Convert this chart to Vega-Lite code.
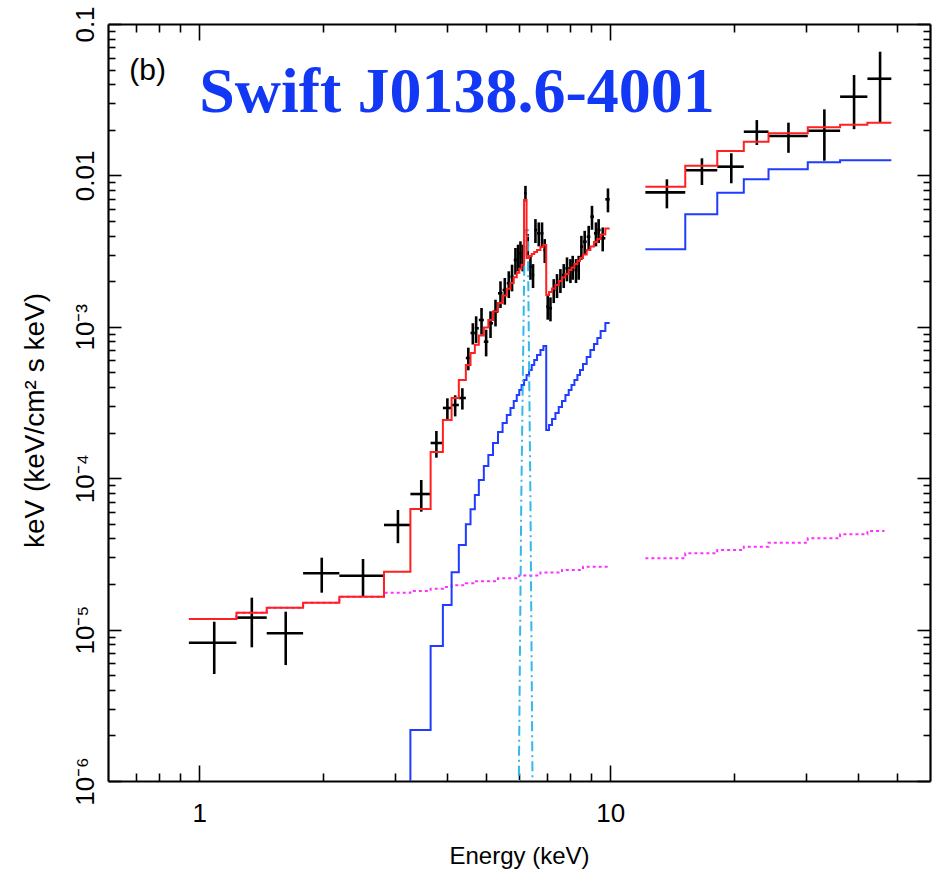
{
  "$schema": "https://vega.github.io/schema/vega-lite/v6.json",
  "width": 822,
  "height": 757,
  "autosize": {"type": "none"},
  "padding": {"left": 108, "top": 24, "right": 3, "bottom": 89},
  "background": "white",
  "config": {"view": {"stroke": null}, "font": "Liberation Sans"},
  "datasets": {
    "pts": [
      {"E": 1.088, "Elo": 0.944, "Ehi": 1.232, "F": 8.19e-6, "Flo": 5.09e-6, "Fhi": 1.127e-5},
      {"E": 1.343, "Elo": 1.232, "Ehi": 1.46, "F": 1.2e-5, "Flo": 7.64e-6, "Fhi": 1.625e-5},
      {"E": 1.624, "Elo": 1.46, "Ehi": 1.79, "F": 9.45e-6, "Flo": 5.83e-6, "Fhi": 1.313e-5},
      {"E": 1.987, "Elo": 1.79, "Ehi": 2.193, "F": 2.355e-5, "Flo": 1.753e-5, "Fhi": 2.985e-5},
      {"E": 2.504, "Elo": 2.193, "Ehi": 2.816, "F": 2.27e-5, "Flo": 1.649e-5, "Fhi": 2.925e-5},
      {"E": 3.045, "Elo": 2.816, "Ehi": 3.265, "F": 4.91e-5, "Flo": 3.72e-5, "Fhi": 6.17e-5},
      {"E": 3.47, "Elo": 3.265, "Ehi": 3.657, "F": 7.86e-5, "Flo": 6.01e-5, "Fhi": 9.73e-5},
      {"E": 3.777, "Elo": 3.657, "Ehi": 3.917, "F": 1.708e-4, "Flo": 1.366e-4, "Fhi": 2.05e-4},
      {"E": 4.017, "Elo": 3.917, "Ehi": 4.113, "F": 2.909e-4, "Flo": 2.44e-4, "Fhi": 3.37e-4},
      {"E": 4.196, "Elo": 4.113, "Ehi": 4.283, "F": 3.044e-4, "Flo": 2.56e-4, "Fhi": 3.53e-4},
      {"E": 4.369, "Elo": 4.283, "Ehi": 4.455, "F": 3.386e-4, "Flo": 2.84e-4, "Fhi": 3.93e-4},
      {"E": 4.517, "Elo": 4.455, "Ehi": 4.573, "F": 6.221e-4, "Flo": 5.16e-4, "Fhi": 7.28e-4},
      {"E": 4.632, "Elo": 4.573, "Ehi": 4.685, "F": 9.1e-4, "Flo": 7.64e-4, "Fhi": 1.056e-3},
      {"E": 4.719, "Elo": 4.685, "Ehi": 4.791, "F": 9.774e-4, "Flo": 7.82e-4, "Fhi": 1.173e-3},
      {"E": 4.864, "Elo": 4.791, "Ehi": 4.927, "F": 1.109e-3, "Flo": 8.87e-4, "Fhi": 1.331e-3},
      {"E": 4.991, "Elo": 4.927, "Ehi": 5.053, "F": 7.973e-4, "Flo": 6.38e-4, "Fhi": 9.57e-4},
      {"E": 5.115, "Elo": 5.053, "Ehi": 5.187, "F": 1.055e-3, "Flo": 8.44e-4, "Fhi": 1.266e-3},
      {"E": 5.26, "Elo": 5.187, "Ehi": 5.334, "F": 1.258e-3, "Flo": 1.006e-3, "Fhi": 1.51e-3},
      {"E": 5.409, "Elo": 5.334, "Ehi": 5.473, "F": 1.664e-3, "Flo": 1.331e-3, "Fhi": 1.997e-3},
      {"E": 5.541, "Elo": 5.473, "Ehi": 5.603, "F": 1.75e-3, "Flo": 1.4e-3, "Fhi": 2.1e-3},
      {"E": 5.666, "Elo": 5.603, "Ehi": 5.72, "F": 1.938e-3, "Flo": 1.55e-3, "Fhi": 2.326e-3},
      {"E": 5.771, "Elo": 5.72, "Ehi": 5.826, "F": 2.143e-3, "Flo": 1.714e-3, "Fhi": 2.572e-3},
      {"E": 5.882, "Elo": 5.826, "Ehi": 5.925, "F": 2.763e-3, "Flo": 2.21e-3, "Fhi": 3.316e-3},
      {"E": 5.968, "Elo": 5.925, "Ehi": 6.009, "F": 2.904e-3, "Flo": 2.323e-3, "Fhi": 3.485e-3},
      {"E": 6.049, "Elo": 6.009, "Ehi": 6.087, "F": 3.058e-3, "Flo": 2.446e-3, "Fhi": 3.67e-3},
      {"E": 6.128, "Elo": 6.087, "Ehi": 6.172, "F": 2.904e-3, "Flo": 2.323e-3, "Fhi": 3.485e-3},
      {"E": 6.221, "Elo": 6.172, "Ehi": 6.26, "F": 7.62e-3, "Flo": 6.71e-3, "Fhi": 8.53e-3},
      {"E": 6.302, "Elo": 6.26, "Ehi": 6.348, "F": 3.47e-3, "Flo": 2.845e-3, "Fhi": 4.095e-3},
      {"E": 6.397, "Elo": 6.348, "Ehi": 6.444, "F": 2.494e-3, "Flo": 2.045e-3, "Fhi": 2.943e-3},
      {"E": 6.491, "Elo": 6.444, "Ehi": 6.535, "F": 2.199e-3, "Flo": 1.803e-3, "Fhi": 2.595e-3},
      {"E": 6.579, "Elo": 6.535, "Ehi": 6.638, "F": 4.359e-3, "Flo": 3.574e-3, "Fhi": 5.144e-3},
      {"E": 6.702, "Elo": 6.638, "Ehi": 6.766, "F": 4.145e-3, "Flo": 3.399e-3, "Fhi": 4.891e-3},
      {"E": 6.826, "Elo": 6.766, "Ehi": 6.88, "F": 4.145e-3, "Flo": 3.399e-3, "Fhi": 4.891e-3},
      {"E": 6.931, "Elo": 6.88, "Ehi": 6.989, "F": 3.216e-3, "Flo": 2.637e-3, "Fhi": 3.795e-3},
      {"E": 7.048, "Elo": 6.989, "Ehi": 7.1, "F": 1.358e-3, "Flo": 1.114e-3, "Fhi": 1.602e-3},
      {"E": 7.156, "Elo": 7.1, "Ehi": 7.22, "F": 1.325e-3, "Flo": 1.087e-3, "Fhi": 1.564e-3},
      {"E": 7.289, "Elo": 7.22, "Ehi": 7.358, "F": 1.75e-3, "Flo": 1.435e-3, "Fhi": 2.065e-3},
      {"E": 7.424, "Elo": 7.358, "Ehi": 7.495, "F": 1.888e-3, "Flo": 1.548e-3, "Fhi": 2.228e-3},
      {"E": 7.567, "Elo": 7.495, "Ehi": 7.635, "F": 2.038e-3, "Flo": 1.671e-3, "Fhi": 2.405e-3},
      {"E": 7.709, "Elo": 7.635, "Ehi": 7.782, "F": 2.199e-3, "Flo": 1.803e-3, "Fhi": 2.595e-3},
      {"E": 7.852, "Elo": 7.782, "Ehi": 7.927, "F": 2.434e-3, "Flo": 1.996e-3, "Fhi": 2.872e-3},
      {"E": 8.003, "Elo": 7.927, "Ehi": 8.052, "F": 2.372e-3, "Flo": 1.945e-3, "Fhi": 2.799e-3},
      {"E": 8.106, "Elo": 8.052, "Ehi": 8.184, "F": 2.494e-3, "Flo": 2.045e-3, "Fhi": 2.943e-3},
      {"E": 8.257, "Elo": 8.184, "Ehi": 8.322, "F": 2.372e-3, "Flo": 1.945e-3, "Fhi": 2.799e-3},
      {"E": 8.383, "Elo": 8.322, "Ehi": 8.444, "F": 2.494e-3, "Flo": 2.045e-3, "Fhi": 2.943e-3},
      {"E": 8.511, "Elo": 8.444, "Ehi": 8.588, "F": 3.381e-3, "Flo": 2.772e-3, "Fhi": 3.99e-3},
      {"E": 8.67, "Elo": 8.588, "Ehi": 8.767, "F": 3.648e-3, "Flo": 2.991e-3, "Fhi": 4.305e-3},
      {"E": 8.866, "Elo": 8.767, "Ehi": 8.95, "F": 3.936e-3, "Flo": 3.228e-3, "Fhi": 4.644e-3},
      {"E": 9.031, "Elo": 8.95, "Ehi": 9.132, "F": 5.336e-3, "Flo": 4.376e-3, "Fhi": 6.296e-3},
      {"E": 9.234, "Elo": 9.132, "Ehi": 9.307, "F": 4.145e-3, "Flo": 3.399e-3, "Fhi": 4.891e-3},
      {"E": 9.374, "Elo": 9.307, "Ehi": 9.479, "F": 4.359e-3, "Flo": 3.574e-3, "Fhi": 5.144e-3},
      {"E": 9.59, "Elo": 9.479, "Ehi": 9.733, "F": 3.841e-3, "Flo": 3.15e-3, "Fhi": 4.532e-3},
      {"E": 9.877, "Elo": 9.733, "Ehi": 9.972, "F": 6.95e-3, "Flo": 5.7e-3, "Fhi": 8.2e-3},
      {"E": 13.74, "Elo": 12.18, "Ehi": 15.23, "F": 7.73e-3, "Flo": 6.06e-3, "Fhi": 9.42e-3},
      {"E": 16.72, "Elo": 15.23, "Ehi": 18.22, "F": 1.081e-2, "Flo": 8.64e-3, "Fhi": 1.297e-2},
      {"E": 19.71, "Elo": 18.22, "Ehi": 21.14, "F": 1.142e-2, "Flo": 8.87e-3, "Fhi": 1.4e-2},
      {"E": 22.74, "Elo": 21.14, "Ehi": 24.28, "F": 1.943e-2, "Flo": 1.588e-2, "Fhi": 2.32e-2},
      {"E": 27.15, "Elo": 24.28, "Ehi": 30.25, "F": 1.82e-2, "Flo": 1.41e-2, "Fhi": 2.23e-2},
      {"E": 33.2, "Elo": 30.25, "Ehi": 36.26, "F": 1.973e-2, "Flo": 1.25e-2, "Fhi": 2.73e-2},
      {"E": 39.21, "Elo": 36.26, "Ehi": 42.25, "F": 3.31e-2, "Flo": 2.02e-2, "Fhi": 4.6e-2},
      {"E": 45.36, "Elo": 42.25, "Ehi": 48.32, "F": 4.35e-2, "Flo": 2.24e-2, "Fhi": 6.56e-2}
    ],
    "model": [
      {"c": "t", "s": 1, "E": 0.944, "v": 1.175e-5},
      {"c": "t", "s": 1, "E": 1.232, "v": 1.294e-5},
      {"c": "t", "s": 1, "E": 1.46, "v": 1.396e-5},
      {"c": "t", "s": 1, "E": 1.79, "v": 1.507e-5},
      {"c": "t", "s": 1, "E": 2.193, "v": 1.65e-5},
      {"c": "t", "s": 1, "E": 2.816, "v": 2.415e-5},
      {"c": "t", "s": 1, "E": 3.265, "v": 6.26e-5},
      {"c": "t", "s": 1, "E": 3.657, "v": 1.49e-4},
      {"c": "t", "s": 1, "E": 3.917, "v": 2.423e-4},
      {"c": "t", "s": 1, "E": 4.113, "v": 3.386e-4},
      {"c": "t", "s": 1, "E": 4.283, "v": 4.453e-4},
      {"c": "t", "s": 1, "E": 4.455, "v": 5.594e-4},
      {"c": "t", "s": 1, "E": 4.573, "v": 6.713e-4},
      {"c": "t", "s": 1, "E": 4.685, "v": 7.6e-4},
      {"c": "t", "s": 1, "E": 4.791, "v": 8.76e-4},
      {"c": "t", "s": 1, "E": 4.927, "v": 9.879e-4},
      {"c": "t", "s": 1, "E": 5.053, "v": 1.107e-3},
      {"c": "t", "s": 1, "E": 5.187, "v": 1.262e-3},
      {"c": "t", "s": 1, "E": 5.334, "v": 1.436e-3},
      {"c": "t", "s": 1, "E": 5.473, "v": 1.607e-3},
      {"c": "t", "s": 1, "E": 5.603, "v": 1.785e-3},
      {"c": "t", "s": 1, "E": 5.72, "v": 1.944e-3},
      {"c": "t", "s": 1, "E": 5.826, "v": 2.127e-3},
      {"c": "t", "s": 1, "E": 5.925, "v": 2.274e-3},
      {"c": "t", "s": 1, "E": 6.009, "v": 2.419e-3},
      {"c": "t", "s": 1, "E": 6.087, "v": 2.572e-3},
      {"c": "t", "s": 1, "E": 6.172, "v": 6.879e-3},
      {"c": "t", "s": 1, "E": 6.26, "v": 2.847e-3},
      {"c": "t", "s": 1, "E": 6.348, "v": 2.935e-3},
      {"c": "t", "s": 1, "E": 6.444, "v": 3.026e-3},
      {"c": "t", "s": 1, "E": 6.535, "v": 3.119e-3},
      {"c": "t", "s": 1, "E": 6.638, "v": 3.216e-3},
      {"c": "t", "s": 1, "E": 6.766, "v": 3.366e-3},
      {"c": "t", "s": 1, "E": 6.88, "v": 3.47e-3},
      {"c": "t", "s": 1, "E": 6.989, "v": 1.622e-3},
      {"c": "t", "s": 1, "E": 7.1, "v": 1.697e-3},
      {"c": "t", "s": 1, "E": 7.22, "v": 1.79e-3},
      {"c": "t", "s": 1, "E": 7.358, "v": 1.888e-3},
      {"c": "t", "s": 1, "E": 7.495, "v": 2.007e-3},
      {"c": "t", "s": 1, "E": 7.635, "v": 2.117e-3},
      {"c": "t", "s": 1, "E": 7.782, "v": 2.233e-3},
      {"c": "t", "s": 1, "E": 7.927, "v": 2.372e-3},
      {"c": "t", "s": 1, "E": 8.052, "v": 2.464e-3},
      {"c": "t", "s": 1, "E": 8.184, "v": 2.599e-3},
      {"c": "t", "s": 1, "E": 8.322, "v": 2.72e-3},
      {"c": "t", "s": 1, "E": 8.444, "v": 2.847e-3},
      {"c": "t", "s": 1, "E": 8.588, "v": 3.003e-3},
      {"c": "t", "s": 1, "E": 8.767, "v": 3.216e-3},
      {"c": "t", "s": 1, "E": 8.95, "v": 3.392e-3},
      {"c": "t", "s": 1, "E": 9.132, "v": 3.632e-3},
      {"c": "t", "s": 1, "E": 9.307, "v": 3.802e-3},
      {"c": "t", "s": 1, "E": 9.479, "v": 4.07e-3},
      {"c": "t", "s": 1, "E": 9.733, "v": 4.46e-3},
      {"c": "t", "s": 1, "E": 9.972, "v": 4.46e-3},
      {"c": "t", "s": 2, "E": 12.18, "v": 8.42e-3},
      {"c": "t", "s": 2, "E": 15.23, "v": 1.16e-2},
      {"c": "t", "s": 2, "E": 18.22, "v": 1.45e-2},
      {"c": "t", "s": 2, "E": 21.14, "v": 1.67e-2},
      {"c": "t", "s": 2, "E": 24.28, "v": 1.9e-2},
      {"c": "t", "s": 2, "E": 30.25, "v": 2.08e-2},
      {"c": "t", "s": 2, "E": 36.26, "v": 2.162e-2},
      {"c": "t", "s": 2, "E": 42.25, "v": 2.229e-2},
      {"c": "t", "s": 2, "E": 48.32, "v": 2.229e-2},
      {"c": "b", "s": 1, "E": 2.816, "v": 2e-7},
      {"c": "b", "s": 1, "E": 3.265, "v": 2.173e-6},
      {"c": "b", "s": 1, "E": 3.657, "v": 7.79e-6},
      {"c": "b", "s": 1, "E": 3.917, "v": 1.454e-5},
      {"c": "b", "s": 1, "E": 4.113, "v": 2.39e-5},
      {"c": "b", "s": 1, "E": 4.283, "v": 3.621e-5},
      {"c": "b", "s": 1, "E": 4.455, "v": 4.96e-5},
      {"c": "b", "s": 1, "E": 4.573, "v": 6.232e-5},
      {"c": "b", "s": 1, "E": 4.685, "v": 7.744e-5},
      {"c": "b", "s": 1, "E": 4.791, "v": 9.73e-5},
      {"c": "b", "s": 1, "E": 4.927, "v": 1.204e-4},
      {"c": "b", "s": 1, "E": 5.053, "v": 1.423e-4},
      {"c": "b", "s": 1, "E": 5.187, "v": 1.708e-4},
      {"c": "b", "s": 1, "E": 5.334, "v": 2.019e-4},
      {"c": "b", "s": 1, "E": 5.473, "v": 2.316e-4},
      {"c": "b", "s": 1, "E": 5.603, "v": 2.615e-4},
      {"c": "b", "s": 1, "E": 5.72, "v": 2.909e-4},
      {"c": "b", "s": 1, "E": 5.826, "v": 3.236e-4},
      {"c": "b", "s": 1, "E": 5.925, "v": 3.544e-4},
      {"c": "b", "s": 1, "E": 6.009, "v": 3.824e-4},
      {"c": "b", "s": 1, "E": 6.087, "v": 4.127e-4},
      {"c": "b", "s": 1, "E": 6.172, "v": 4.453e-4},
      {"c": "b", "s": 1, "E": 6.26, "v": 4.805e-4},
      {"c": "b", "s": 1, "E": 6.348, "v": 5.184e-4},
      {"c": "b", "s": 1, "E": 6.444, "v": 5.594e-4},
      {"c": "b", "s": 1, "E": 6.535, "v": 6.035e-4},
      {"c": "b", "s": 1, "E": 6.638, "v": 6.512e-4},
      {"c": "b", "s": 1, "E": 6.766, "v": 7.027e-4},
      {"c": "b", "s": 1, "E": 6.88, "v": 7.468e-4},
      {"c": "b", "s": 1, "E": 6.989, "v": 2.082e-4},
      {"c": "b", "s": 1, "E": 7.1, "v": 2.246e-4},
      {"c": "b", "s": 1, "E": 7.22, "v": 2.46e-4},
      {"c": "b", "s": 1, "E": 7.358, "v": 2.696e-4},
      {"c": "b", "s": 1, "E": 7.495, "v": 2.953e-4},
      {"c": "b", "s": 1, "E": 7.635, "v": 3.236e-4},
      {"c": "b", "s": 1, "E": 7.782, "v": 3.544e-4},
      {"c": "b", "s": 1, "E": 7.927, "v": 3.824e-4},
      {"c": "b", "s": 1, "E": 8.052, "v": 4.127e-4},
      {"c": "b", "s": 1, "E": 8.184, "v": 4.453e-4},
      {"c": "b", "s": 1, "E": 8.322, "v": 4.805e-4},
      {"c": "b", "s": 1, "E": 8.444, "v": 5.184e-4},
      {"c": "b", "s": 1, "E": 8.588, "v": 5.68e-4},
      {"c": "b", "s": 1, "E": 8.767, "v": 6.317e-4},
      {"c": "b", "s": 1, "E": 8.95, "v": 7.027e-4},
      {"c": "b", "s": 1, "E": 9.132, "v": 7.697e-4},
      {"c": "b", "s": 1, "E": 9.307, "v": 8.435e-4},
      {"c": "b", "s": 1, "E": 9.479, "v": 9.381e-4},
      {"c": "b", "s": 1, "E": 9.733, "v": 1.059e-3},
      {"c": "b", "s": 1, "E": 9.972, "v": 1.059e-3},
      {"c": "b", "s": 2, "E": 12.18, "v": 3.25e-3},
      {"c": "b", "s": 2, "E": 15.23, "v": 5.53e-3},
      {"c": "b", "s": 2, "E": 18.22, "v": 7.69e-3},
      {"c": "b", "s": 2, "E": 21.14, "v": 9.42e-3},
      {"c": "b", "s": 2, "E": 24.28, "v": 1.1e-2},
      {"c": "b", "s": 2, "E": 30.25, "v": 1.22e-2},
      {"c": "b", "s": 2, "E": 36.26, "v": 1.26e-2},
      {"c": "b", "s": 2, "E": 42.25, "v": 1.26e-2},
      {"c": "b", "s": 2, "E": 48.32, "v": 1.26e-2},
      {"c": "p", "s": 1, "E": 0.944, "v": 1.175e-5},
      {"c": "p", "s": 1, "E": 1.232, "v": 1.294e-5},
      {"c": "p", "s": 1, "E": 1.46, "v": 1.396e-5},
      {"c": "p", "s": 1, "E": 1.79, "v": 1.507e-5},
      {"c": "p", "s": 1, "E": 2.193, "v": 1.65e-5},
      {"c": "p", "s": 1, "E": 2.816, "v": 1.75e-5},
      {"c": "p", "s": 1, "E": 3.265, "v": 1.8e-5},
      {"c": "p", "s": 1, "E": 3.657, "v": 1.86e-5},
      {"c": "p", "s": 1, "E": 3.917, "v": 1.91e-5},
      {"c": "p", "s": 1, "E": 4.113, "v": 1.96e-5},
      {"c": "p", "s": 1, "E": 4.455, "v": 2.02e-5},
      {"c": "p", "s": 1, "E": 4.685, "v": 2.09e-5},
      {"c": "p", "s": 1, "E": 5.334, "v": 2.18e-5},
      {"c": "p", "s": 1, "E": 6.009, "v": 2.28e-5},
      {"c": "p", "s": 1, "E": 6.766, "v": 2.38e-5},
      {"c": "p", "s": 1, "E": 7.635, "v": 2.48e-5},
      {"c": "p", "s": 1, "E": 8.588, "v": 2.6e-5},
      {"c": "p", "s": 1, "E": 9.972, "v": 2.64e-5},
      {"c": "p", "s": 2, "E": 12.18, "v": 2.958e-5},
      {"c": "p", "s": 2, "E": 15.23, "v": 3.192e-5},
      {"c": "p", "s": 2, "E": 18.22, "v": 3.356e-5},
      {"c": "p", "s": 2, "E": 21.14, "v": 3.529e-5},
      {"c": "p", "s": 2, "E": 24.28, "v": 3.75e-5},
      {"c": "p", "s": 2, "E": 30.25, "v": 4.009e-5},
      {"c": "p", "s": 2, "E": 36.26, "v": 4.261e-5},
      {"c": "p", "s": 2, "E": 42.25, "v": 4.48e-5},
      {"c": "p", "s": 2, "E": 46.5, "v": 4.48e-5}
    ],
    "gauss": [
      {"E": 5.99, "v": 8e-7},
      {"E": 6.077, "v": 7.18e-5},
      {"E": 6.196, "v": 4.36e-3},
      {"E": 6.302, "v": 4.36e-3},
      {"E": 6.397, "v": 7.18e-5},
      {"E": 6.475, "v": 8e-7}
    ],
    "labels": [
      {"t": "Swift J0138.6-4001", "E": 1.0, "F": 0.02624, "k": "title"},
      {"t": "(b)", "E": 0.676, "F": 0.0427, "k": "panel"}
    ]
  },
  "resolve": {"axis": {"x": "independent", "y": "independent"}},
  "layer": [
    {
      "data": {"name": "pts"},
      "mark": {"type": "rule", "color": "black", "strokeWidth": 2.6, "clip": true},
      "encoding": {
        "x": {
          "field": "Elo", "type": "quantitative",
          "scale": {"type": "log", "domain": [0.6, 60], "nice": false, "zero": false},
          "axis": {
            "orient": "bottom",
            "values": [0.7, 0.8, 0.9, 1, 2, 3, 4, 5, 6, 7, 8, 9, 10, 20, 30, 40, 50],
            "labelExpr": "datum.value == 1 ? '1' : (datum.value == 10 ? '10' : '')",
            "tickSize": {"condition": {"test": "datum.value == 1 || datum.value == 10", "value": -16}, "value": -8},
            "tickColor": "black", "tickWidth": 1.6,
            "domainColor": "black", "domainWidth": 2.2,
            "labelPadding": 35, "labelFontSize": 26, "labelColor": "black", "labelFont": "Liberation Sans",
            "labelFlush": false, "labelOverlap": false, "grid": false,
            "title": "Energy (keV)", "titleFontSize": 24, "titleFontWeight": "normal", "titleColor": "black",
            "titleFont": "Liberation Sans", "titleBaseline": "alphabetic", "titleY": 82
          }
        },
        "x2": {"field": "Ehi"},
        "y": {
          "field": "F", "type": "quantitative",
          "scale": {"type": "log", "domain": [1e-6, 0.1], "nice": false, "zero": false},
          "axis": {
            "orient": "left",
            "values": [1e-6, 2e-6, 3e-6, 4e-6, 5e-6, 6e-6, 7e-6, 8e-6, 9e-6, 1e-5, 2e-5, 3e-5, 4e-5, 5e-5, 6e-5, 7e-5, 8e-5, 9e-5, 1e-4, 2e-4, 3e-4, 4e-4, 5e-4, 6e-4, 7e-4, 8e-4, 9e-4, 0.001, 0.002, 0.003, 0.004, 0.005, 0.006, 0.007, 0.008, 0.009, 0.01, 0.02, 0.03, 0.04, 0.05, 0.06, 0.07, 0.08, 0.09, 0.1],
            "labelExpr": "datum.value == 0.1 ? '0.1' : datum.value == 0.01 ? '0.01' : datum.value == 0.001 ? '10⁻³' : datum.value == 0.0001 ? '10⁻⁴' : datum.value == 0.00001 ? '10⁻⁵' : datum.value == 0.000001 ? '10⁻⁶' : ''",
            "tickSize": {"condition": {"test": "datum.value == 0.1 || datum.value == 0.01 || datum.value == 0.001 || datum.value == 0.0001 || datum.value == 0.00001 || datum.value == 0.000001", "value": -13}, "value": -7},
            "tickColor": "black", "tickWidth": 1.6,
            "domainColor": "black", "domainWidth": 2.2,
            "labelAngle": -90, "labelAlign": "center", "labelBaseline": "alphabetic",
            "labelPadding": 28, "labelFontSize": 26, "labelColor": "black", "labelFont": "Liberation Sans",
            "labelFlush": false, "labelOverlap": false, "grid": false,
            "title": "keV (keV/cm² s keV)", "titleFontSize": 28, "titleFontWeight": "normal", "titleColor": "black",
            "titleFont": "Liberation Sans", "titleBaseline": "alphabetic", "titleX": -65, "titleY": 396
          }
        }
      }
    },
    {
      "data": {"name": "pts"},
      "mark": {"type": "rule", "color": "black", "strokeWidth": 2.6, "clip": true},
      "encoding": {
        "x": {
          "field": "E", "type": "quantitative",
          "scale": {"type": "log", "domain": [0.6, 60], "nice": false, "zero": false},
          "axis": {
            "orient": "top",
            "values": [0.7, 0.8, 0.9, 1, 2, 3, 4, 5, 6, 7, 8, 9, 10, 20, 30, 40, 50],
            "labels": false,
            "tickSize": {"condition": {"test": "datum.value == 1 || datum.value == 10", "value": -16}, "value": -8},
            "tickColor": "black", "tickWidth": 1.6,
            "domainColor": "black", "domainWidth": 2.2, "grid": false, "title": null
          }
        },
        "y": {
          "field": "Flo", "type": "quantitative",
          "scale": {"type": "log", "domain": [1e-6, 0.1], "nice": false, "zero": false},
          "axis": {
            "orient": "right",
            "values": [1e-6, 2e-6, 3e-6, 4e-6, 5e-6, 6e-6, 7e-6, 8e-6, 9e-6, 1e-5, 2e-5, 3e-5, 4e-5, 5e-5, 6e-5, 7e-5, 8e-5, 9e-5, 1e-4, 2e-4, 3e-4, 4e-4, 5e-4, 6e-4, 7e-4, 8e-4, 9e-4, 0.001, 0.002, 0.003, 0.004, 0.005, 0.006, 0.007, 0.008, 0.009, 0.01, 0.02, 0.03, 0.04, 0.05, 0.06, 0.07, 0.08, 0.09, 0.1],
            "labels": false,
            "tickSize": {"condition": {"test": "datum.value == 0.1 || datum.value == 0.01 || datum.value == 0.001 || datum.value == 0.0001 || datum.value == 0.00001 || datum.value == 0.000001", "value": -13}, "value": -7},
            "tickColor": "black", "tickWidth": 1.6,
            "domainColor": "black", "domainWidth": 2.2, "grid": false, "title": null
          }
        },
        "y2": {"field": "Fhi"}
      }
    },
    {
      "data": {"name": "model"},
      "transform": [{"filter": "datum.c == 'p'"}],
      "mark": {"type": "line", "interpolate": "step-after", "color": "#ff30ff", "strokeWidth": 2, "strokeDash": [3, 3], "clip": true},
      "encoding": {
        "x": {"field": "E", "type": "quantitative", "axis": null},
        "y": {"field": "v", "type": "quantitative", "axis": null},
        "detail": {"field": "s", "type": "nominal"}
      }
    },
    {
      "data": {"name": "model"},
      "transform": [{"filter": "datum.c == 'b'"}],
      "mark": {"type": "line", "interpolate": "step-after", "color": "#1f3cff", "strokeWidth": 2, "clip": true},
      "encoding": {
        "x": {"field": "E", "type": "quantitative", "axis": null},
        "y": {"field": "v", "type": "quantitative", "axis": null},
        "detail": {"field": "s", "type": "nominal"}
      }
    },
    {
      "data": {"name": "gauss"},
      "mark": {"type": "line", "color": "#33b8ea", "strokeWidth": 2, "strokeDash": [10, 4, 2, 4], "clip": true},
      "encoding": {
        "x": {"field": "E", "type": "quantitative", "axis": null},
        "y": {"field": "v", "type": "quantitative", "axis": null}
      }
    },
    {
      "data": {"name": "model"},
      "transform": [{"filter": "datum.c == 't'"}],
      "mark": {"type": "line", "interpolate": "step-after", "color": "#ff2020", "strokeWidth": 2, "clip": true},
      "encoding": {
        "x": {"field": "E", "type": "quantitative", "axis": null},
        "y": {"field": "v", "type": "quantitative", "axis": null},
        "detail": {"field": "s", "type": "nominal"}
      }
    },
    {
      "data": {"name": "labels"},
      "transform": [{"filter": "datum.k == 'title'"}],
      "mark": {"type": "text", "align": "left", "baseline": "alphabetic", "font": "Liberation Serif", "fontWeight": "bold", "fontSize": 64, "color": "#1238f5"},
      "encoding": {
        "x": {"field": "E", "type": "quantitative", "axis": null},
        "y": {"field": "F", "type": "quantitative", "axis": null},
        "text": {"field": "t"}
      }
    },
    {
      "data": {"name": "labels"},
      "transform": [{"filter": "datum.k == 'panel'"}],
      "mark": {"type": "text", "align": "left", "baseline": "alphabetic", "font": "Liberation Sans", "fontSize": 30, "color": "black"},
      "encoding": {
        "x": {"field": "E", "type": "quantitative", "axis": null},
        "y": {"field": "F", "type": "quantitative", "axis": null},
        "text": {"field": "t"}
      }
    }
  ]
}
